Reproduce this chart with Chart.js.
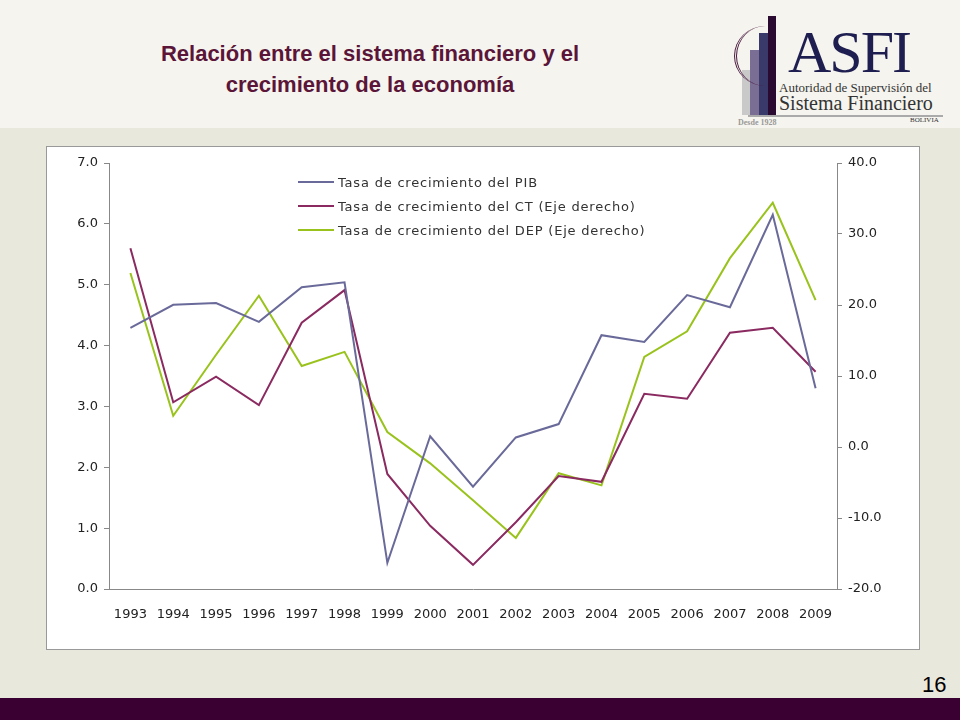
<!DOCTYPE html>
<html><head><meta charset="utf-8">
<script src="https://cdn.jsdelivr.net/npm/chart.js@4"></script>
<style>
body{margin:0;width:960px;height:720px;position:relative;background:#e9e8dc;font-family:"Liberation Sans",Arial,sans-serif;overflow:hidden}
#hdr{position:absolute;left:0;top:0;width:960px;height:128px;background:#f5f4ee}
#title{position:absolute;left:70px;top:38px;width:600px;text-align:center;color:#5a1538;font-weight:bold;font-size:22px;line-height:31px}
#box{position:absolute;left:46px;top:146px;width:872px;height:502px;background:#fff;border:1px solid #999}
#foot{position:absolute;left:0;top:698px;width:960px;height:22px;background:#3b0032}
#num{position:absolute;left:922px;top:672px;font-size:22px;color:#000}
#leg{position:absolute;left:298px;top:170px;font-family:"DejaVu Sans",sans-serif;font-size:13px;color:#333;letter-spacing:0.8px}
#leg div{height:24px;display:flex;align-items:center}
#leg span{display:inline-block;width:36px;height:2px;margin-right:4px}
#logo{position:absolute;left:728px;top:10px;width:230px;height:115px}
</style></head><body>
<div id="hdr"></div>
<div id="title">Relación entre el sistema financiero y el<br>crecimiento de la economía</div>
<div id="logo">
 <div style="position:absolute;left:14px;top:60px;width:9px;height:45px;background:#c9c9c9"></div>
 <div style="position:absolute;left:22px;top:40px;width:9px;height:65px;background:#7a6e94"></div>
 <div style="position:absolute;left:31px;top:23px;width:9px;height:82px;background:#3a3a6a"></div>
 <div style="position:absolute;left:40px;top:6px;width:8px;height:99px;background:#2a0a30"></div>
 <div style="position:absolute;left:6px;top:16px;width:60px;height:60px;border-left:3px double #4a1a40;border-radius:50%"></div>
 <div style="position:absolute;left:60px;top:8px;font-family:'Liberation Serif',serif;font-size:60px;color:#1e1e50;letter-spacing:-2px">ASFI</div>
 <div style="position:absolute;left:51px;top:70px;font-family:'Liberation Serif',serif;font-size:13px;color:#333">Autoridad de Supervisión del</div>
 <div style="position:absolute;left:51px;top:82px;font-family:'Liberation Serif',serif;font-size:20px;color:#333">Sistema Financiero</div>
 <div style="position:absolute;left:20px;top:105px;width:195px;height:2px;background:#aaa"></div>
 <div style="position:absolute;left:182px;top:106px;font-family:'Liberation Serif',serif;font-size:7px;color:#333">BOLIVIA</div>
 <div style="position:absolute;left:10px;top:108px;font-family:'Liberation Serif',serif;font-size:8px;color:#999;font-weight:bold">Desde 1928</div>
</div>
<div id="box"><canvas id="c" width="872" height="502"></canvas></div>
<div id="leg">
 <div><span style="background:#6a6a9a"></span>Tasa de crecimiento del PIB</div>
 <div><span style="background:#8a2a60"></span>Tasa de crecimiento del CT (Eje derecho)</div>
 <div><span style="background:#99c31c"></span>Tasa de crecimiento del DEP (Eje derecho)</div>
</div>
<div id="foot"></div>
<div id="num">16</div>
<script>
const years=["1993","1994","1995","1996","1997","1998","1999","2000","2001","2002","2003","2004","2005","2006","2007","2008","2009"];
const pib=[4.29,4.67,4.70,4.39,4.96,5.04,0.43,2.51,1.68,2.49,2.71,4.17,4.06,4.83,4.63,6.15,3.30];
const ct=[28.0,6.3,9.9,5.9,17.5,22.1,-3.8,-11.1,-16.6,-10.6,-4.1,-4.9,7.5,6.8,16.1,16.8,10.6];
const dep=[24.5,4.4,13.0,21.3,11.4,13.4,2.1,-2.3,-7.5,-12.8,-3.7,-5.4,12.7,16.3,26.6,34.4,20.7];
const tf={family:"'DejaVu Sans',sans-serif",size:13};
const grid={drawOnChartArea:false,drawTicks:true,tickLength:5,color:'#888'};
new Chart(document.getElementById('c'),{type:'line',
data:{labels:years,datasets:[
{data:pib,borderColor:'#6a6a9a',yAxisID:'y',borderWidth:2,pointRadius:0,tension:0},
{data:ct,borderColor:'#8a2a60',yAxisID:'y1',borderWidth:2,pointRadius:0,tension:0},
{data:dep,borderColor:'#99c31c',yAxisID:'y1',borderWidth:2,pointRadius:0,tension:0}]},
options:{responsive:false,animation:false,layout:{padding:{top:16,left:12,right:32,bottom:18}},
plugins:{legend:{display:false},tooltip:{enabled:false}},
scales:{
x:{offset:true,grid:{display:false},border:{color:'#888'},ticks:{color:'#222',font:tf,maxRotation:0,autoSkip:false,padding:10},afterFit:s=>{s.height=42;}},
y:{min:0,max:7,ticks:{stepSize:1,color:'#222',font:tf,padding:6,callback:v=>v.toFixed(1)},grid:grid,border:{color:'#888'},afterFit:s=>{s.width=50;}},
y1:{position:'right',min:-20,max:40,ticks:{stepSize:10,color:'#222',font:tf,padding:6,callback:v=>v.toFixed(1)},grid:grid,border:{color:'#888'},afterFit:s=>{s.width=50;}}
}}});
</script>
</body></html>
